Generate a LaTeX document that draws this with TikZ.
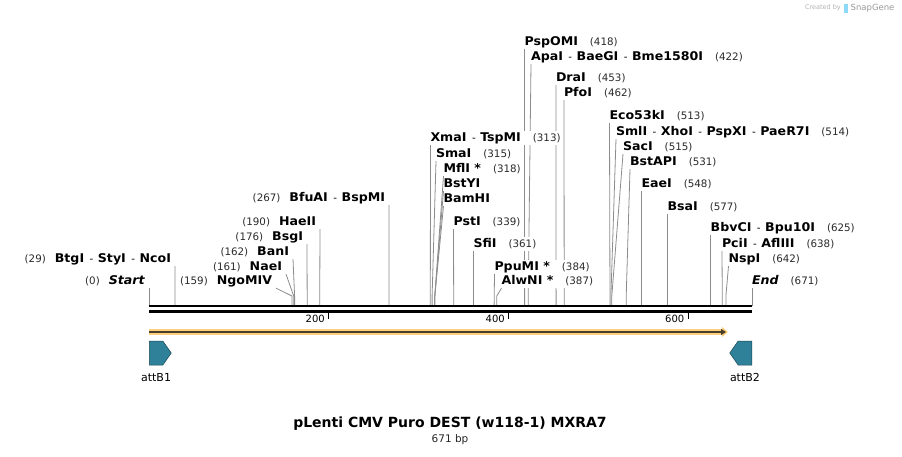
\documentclass[tikz,border=0pt]{standalone}
\usepackage{fontspec}
\setmainfont{DejaVu Sans}
\newfontfamily\enzfont{DejaVu Sans}[FakeStretch=1.05]
\usepackage{tikz}
\usetikzlibrary{positioning,shapes.symbols,arrows.meta,backgrounds}

\definecolor{numgray}{HTML}{2A2A2A}
\definecolor{cutgray}{HTML}{8C8C8C}
\definecolor{attteal}{HTML}{2F8199}
\definecolor{orfband}{HTML}{FDD080}
\definecolor{orfline}{HTML}{4A3E28}

\newcommand\enz[1]{{\enzfont\bfseries #1}}
\newcommand\pn[1]{{\fontsize{10.3}{12}\selectfont\color{numgray}#1}}
\newcommand\hy{\hspace{5.5pt}{\fontsize{10.3}{12}\selectfont -}\hspace{4.5pt}}
\newcommand\numgap{\hspace{12pt}}

\begin{document}
\begin{tikzpicture}[x=1pt,y=-1pt,
    lbl/.style={fill=white,inner xsep=0pt,inner ysep=1.5pt,outer sep=0pt,text height=8.7pt,text depth=2.5pt,font=\fontsize{12}{14}\selectfont},
    cut/.style={draw=cutgray,line width=0.8pt},
    feat/.style={shape=signal,draw=attteal!55!black,fill=attteal,line width=0.5pt,signal pointer angle=110,minimum width=22pt,minimum height=24pt,inner sep=0pt}]
\useasboundingbox (0,0) rectangle (902,456);

% cut positions on the sequence
\coordinate (c0) at (149,306);
\coordinate (c29) at (175.1,306);
\coordinate (c159) at (291.9,306);
\coordinate (c161) at (293.7,306);
\coordinate (c162) at (294.6,306);
\coordinate (c176) at (307.2,306);
\coordinate (c190) at (319.7,306);
\coordinate (c267) at (388.9,306);
\coordinate (c313) at (430.3,306);
\coordinate (c315) at (432.1,306);
\coordinate (c318) at (434.8,306);
\coordinate (c339) at (453.7,306);
\coordinate (c361) at (473.4,306);
\coordinate (c384) at (494.1,306);
\coordinate (c387) at (496.8,306);
\coordinate (c418) at (524.6,306);
\coordinate (c422) at (528.2,306);
\coordinate (c453) at (556.1,306);
\coordinate (c462) at (564.2,306);
\coordinate (c513) at (610.0,306);
\coordinate (c514) at (610.9,306);
\coordinate (c515) at (611.8,306);
\coordinate (c531) at (626.2,306);
\coordinate (c548) at (641.5,306);
\coordinate (c577) at (667.5,306);
\coordinate (c625) at (710.7,306);
\coordinate (c638) at (722.3,306);
\coordinate (c642) at (725.9,306);
\coordinate (c671) at (752,306);

% labels left of their cut
\node[lbl,anchor=east] (start) at (145,281) {\pn{(0)}\hspace{9pt}\enz{\textit{Start}}};
\node[lbl,anchor=east] (ncoi) at (171,259) {\pn{(29)}\hspace{9pt}\enz{BtgI}\hy\enz{StyI}\hy\enz{NcoI}};
\node[lbl,anchor=east] (ngomiv) at (272,281) {\pn{(159)}\hspace{9pt}\enz{NgoMIV}};
\node[lbl,anchor=east] (naei) at (282,267) {\pn{(161)}\hspace{9pt}\enz{NaeI}};
\node[lbl,anchor=east] (bani) at (289,252) {\pn{(162)}\hspace{9pt}\enz{BanI}};
\node[lbl,anchor=east] (bsgi) at (303,237) {\pn{(176)}\hspace{9pt}\enz{BsgI}};
\node[lbl,anchor=east] (haeii) at (316,222) {\pn{(190)}\hspace{9pt}\enz{HaeII}};
\node[lbl,anchor=east] (bfuai) at (385,198) {\pn{(267)}\hspace{9pt}\enz{BfuAI}\hy\enz{BspMI}};

% labels right of their cut
\node[lbl,anchor=west] (xmai) at (430.5,138) {\enz{XmaI}\hy\enz{TspMI}\numgap\pn{(313)}};
\node[lbl,anchor=west] (smai) at (436,154) {\enz{SmaI}\numgap\pn{(315)}};
\node[lbl,anchor=west] (mfli) at (443.5,169) {\enz{MflI *}\numgap\pn{(318)}};
\node[lbl,anchor=west] (bstyi) at (443.5,184) {\enz{BstYI}};
\node[lbl,anchor=west] (bamhi) at (443.5,199) {\enz{BamHI}};
\node[lbl,anchor=west] (psti) at (453.5,222) {\enz{PstI}\numgap\pn{(339)}};
\node[lbl,anchor=west] (sfii) at (473.5,244) {\enz{SfiI}\numgap\pn{(361)}};
\node[lbl,anchor=west] (ppumi) at (494.5,267) {\enz{PpuMI *}\numgap\pn{(384)}};
\node[lbl,anchor=west] (alwni) at (501.5,281) {\enz{AlwNI *}\numgap\pn{(387)}};
\node[lbl,anchor=west] (pspomi) at (524.5,42) {\enz{PspOMI}\numgap\pn{(418)}};
\node[lbl,anchor=west] (apai) at (531,57) {\enz{ApaI}\hy\enz{BaeGI}\hy\enz{Bme1580I}\numgap\pn{(422)}};
\node[lbl,anchor=west] (drai) at (556,78) {\enz{DraI}\numgap\pn{(453)}};
\node[lbl,anchor=west] (pfoi) at (564,93) {\enz{PfoI}\numgap\pn{(462)}};
\node[lbl,anchor=west] (eco) at (609.5,116) {\enz{Eco53kI}\numgap\pn{(513)}};
\node[lbl,anchor=west] (smli) at (616,132) {\enz{SmlI}\hy\enz{XhoI}\hy\enz{PspXI}\hy\enz{PaeR7I}\numgap\pn{(514)}};
\node[lbl,anchor=west] (saci) at (623,147) {\enz{SacI}\numgap\pn{(515)}};
\node[lbl,anchor=west] (bstapi) at (630,162) {\enz{BstAPI}\numgap\pn{(531)}};
\node[lbl,anchor=west] (eaei) at (641.5,184) {\enz{EaeI}\numgap\pn{(548)}};
\node[lbl,anchor=west] (bsai) at (667.5,207) {\enz{BsaI}\numgap\pn{(577)}};
\node[lbl,anchor=west] (bbvci) at (710.7,228) {\enz{BbvCI}\hy\enz{Bpu10I}\numgap\pn{(625)}};
\node[lbl,anchor=west] (pcii) at (722,244) {\enz{PciI}\hy\enz{AflIII}\numgap\pn{(638)}};
\node[lbl,anchor=west] (nspi) at (728.5,259) {\enz{NspI}\numgap\pn{(642)}};
\node[lbl,anchor=west] (endlbl) at (752,281) {\enz{\textit{End}}\numgap\pn{(671)}};

\begin{scope}[on background layer]
\draw[cut] ([xshift=4pt]start.south east) -- (c0);
\draw[cut] ([xshift=4pt]ncoi.south east) -- (c29);
\draw[cut] ([xshift=4pt]ngomiv.south east) -- ([yshift=10pt]c159) -- (c159);
\draw[cut] ([xshift=4pt]naei.south east) -- ([yshift=10pt]c161) -- (c161);
\draw[cut] ([xshift=4pt]bani.south east) -- ([yshift=10pt]c162) -- (c162);
\draw[cut] ([xshift=4pt]bsgi.south east) -- (c176);
\draw[cut] ([xshift=4pt]haeii.south east) -- (c190);
\draw[cut] ([xshift=4pt]bfuai.south east) -- (c267);
\draw[cut] (xmai.south west) -- (c313);
\draw[cut] (smai.south west) -- ([yshift=10pt]c315) -- (c315);
\draw[cut] (mfli.south west) -- ([yshift=10pt]c318) -- (c318);
\draw[cut] (bstyi.south west) -- ([yshift=10pt]c318) -- (c318);
\draw[cut] (bamhi.south west) -- ([yshift=10pt]c318) -- (c318);
\draw[cut] (psti.south west) -- (c339);
\draw[cut] (sfii.south west) -- (c361);
\draw[cut] (ppumi.south west) -- (c384);
\draw[cut] (alwni.south west) -- ([yshift=10pt]c387) -- (c387);
\draw[cut] (pspomi.south west) -- (c418);
\draw[cut] (apai.south west) -- ([yshift=10pt]c422) -- (c422);
\draw[cut] (drai.south west) -- (c453);
\draw[cut] (pfoi.south west) -- (c462);
\draw[cut] (eco.south west) -- (c513);
\draw[cut] (smli.south west) -- ([yshift=10pt]c514) -- (c514);
\draw[cut] (saci.south west) -- ([yshift=10pt]c515) -- (c515);
\draw[cut] (bstapi.south west) -- ([yshift=10pt]c531) -- (c531);
\draw[cut] (eaei.south west) -- (c548);
\draw[cut] (bsai.south west) -- (c577);
\draw[cut] (bbvci.south west) -- (c625);
\draw[cut] (pcii.south west) -- (c638);
\draw[cut] (nspi.south west) -- ([yshift=10pt]c642) -- (c642);
\draw[cut] (endlbl.south west) -- (c671);
\end{scope}

% sequence and ruler
\draw[line width=2pt] (c0) -- (c671);
\draw[line width=2.4pt] (149,311.5) -- (752,311.5);
\draw[line width=1.4pt] (328.7,311) -- (328.7,318.5);
\draw[line width=1.4pt] (508.5,311) -- (508.5,318.5);
\draw[line width=1.4pt] (688.2,311) -- (688.2,318.5);
\node[anchor=east,font=\fontsize{10}{12}\selectfont,inner sep=0pt] (t200) at (325,318.5) {200};
\node[anchor=east,font=\fontsize{10}{12}\selectfont,inner sep=0pt] (t400) at (505,318.5) {400};
\node[anchor=east,font=\fontsize{10}{12}\selectfont,inner sep=0pt] (t600) at (684.5,318.5) {600};

% ORF
\coordinate (orfa) at (149,332);
\coordinate (orfb) at (726,332);
\draw[orfband,line width=6.5pt,-{Triangle[length=6pt,width=10pt]}] (orfa) -- ([xshift=2pt]orfb);
\draw[orfline,line width=1.8pt,-{Triangle[length=5pt,width=6pt]}] (orfa) -- (orfb);

% features
\node[feat,signal to=east,anchor=west] (attb1) at (149,353) {};
\node[feat,signal to=west,anchor=east] (attb2) at (752,353) {};
\node[below=5pt of attb1,font=\fontsize{11}{13}\selectfont] (attb1lbl) {attB1};
\node[below=5pt of attb2,font=\fontsize{11}{13}\selectfont] (attb2lbl) {attB2};

% title
\node[font=\bfseries\fontsize{14}{16}\selectfont] (title) at (450,424) {pLenti CMV Puro DEST (w118-1) MXRA7};
\node[font=\fontsize{10.5}{12}\selectfont,text=black!85] (bplen) at (450,440) {671 bp};

% watermark
\node[anchor=east,inner sep=0pt,text=black!30,font=\fontsize{6.5}{8}\selectfont] (crby) at (841,8) {Created by};
\node[right=3pt of crby,fill=cyan!45,minimum width=4pt,minimum height=9pt,inner sep=0pt] (sglogo) {};
\node[right=2pt of sglogo,inner sep=0pt,text=black!40,font=\fontsize{8.5}{10}\selectfont] (sgname) {SnapGene};
\end{tikzpicture}
\end{document}
